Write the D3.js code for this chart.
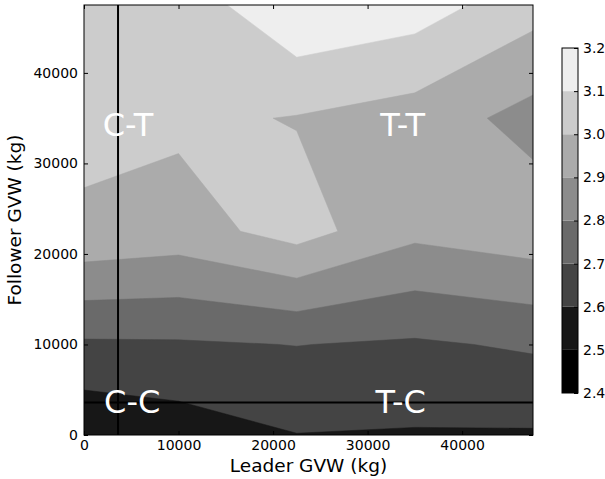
<!DOCTYPE html>
<html><head><meta charset="utf-8">
<script src="https://cdn.jsdelivr.net/npm/d3@7"></script>
<style>
html,body{margin:0;padding:0;background:#fff;}
svg{display:block;font-family:"DejaVu Sans",sans-serif;}
</style></head>
<body><svg id="chart" width="605" height="479"></svg>
<script>
// ---- data ----
const gridX = [0, 10000, 22500, 35000, 47500];          // Leader GVW grid (kg)
const gridY = [0, 10000, 22500, 35000, 47500];          // Follower GVW grid (kg)
// values, one row per gridY (bottom to top)
const row0 = [2.515, 2.547, 2.598, 2.592, 2.591];
const row1 = [2.686, 2.689, 2.702, 2.687, 2.713];
const row2 = [2.980, 2.956, 3.040, 2.925, 2.962];
const row3 = [3.032, 3.020, 2.995, 2.957, 2.864];
const row4 = [3.050, 3.037, 3.190, 3.149, 3.040];
const levels = [2.4, 2.5, 2.6, 2.7, 2.8, 2.9, 3.0, 3.1, 3.2];
const bandColors = ["#000000", "#171717", "#444444", "#6a6a6a", "#8c8c8c", "#ababab", "#cccccc", "#eeeeee"];
const xTicks = [0, 10000, 20000, 30000, 40000];
const yTicks = [0, 10000, 20000, 30000, 40000];
const splitX = 3600;   // vertical divider (kg)
const splitY = 3600;   // horizontal divider (kg)
const regionNames = ["C-T", "T-T", "C-C", "T-C"];
const regionX = [4650, 33700, 5100, 33500];
const regionY = [33000, 33000, 2400, 2400];

// ---- layout ----
const svg = d3.select("#chart");
const L = 84, R = 533, T = 5, B = 435;
const x = d3.scaleLinear().domain([0, 47500]).range([L, R]);
const y = d3.scaleLinear().domain([0, 47500]).range([B, T]);

const rows = [row0, row1, row2, row3, row4];
const nx = gridX.length, ny = gridY.length;
// negate so that d3's saddle rule connects the high corners (as matplotlib does here)
const flat = [];
rows.forEach(r => r.forEach(v => flat.push(-v)));

function interp(arr, u) {
  let t = Math.max(0, Math.min(arr.length - 1, u - 0.5));
  let i = Math.min(arr.length - 2, Math.floor(t));
  return arr[i] + (t - i) * (arr[i + 1] - arr[i]);
}
const gen = d3.contours().size([nx, ny]).smooth(true);
const path = d3.geoPath();

const plot = svg.append("g");
plot.append("clipPath").attr("id", "clip").append("rect")
  .attr("x", L).attr("y", T).attr("width", R - L).attr("height", B - T);
const cg = plot.append("g").attr("clip-path", "url(#clip)");

// draw region Z <= level for each upper level, from top down
for (let k = levels.length - 1; k >= 1; k--) {
  const lev = levels[k];
  const c = gen.contour(flat, -lev);
  const mapped = {
    type: "MultiPolygon",
    coordinates: c.coordinates.map(poly => poly.map(ring => ring.map(p => [x(interp(gridX, p[0])), y(interp(gridY, p[1]))])))
  };
  cg.append("path").attr("d", path(mapped)).attr("fill", bandColors[k - 1])
    .attr("stroke", bandColors[k - 1]).attr("stroke-width", 0.5);
}

// divider lines
cg.append("line").attr("x1", x(splitX)).attr("x2", x(splitX)).attr("y1", T).attr("y2", B)
  .attr("stroke", "#000").attr("stroke-width", 2);
cg.append("line").attr("x1", L).attr("x2", R).attr("y1", y(splitY)).attr("y2", y(splitY))
  .attr("stroke", "#000").attr("stroke-width", 2);

// region labels
regionNames.forEach((n, i) => {
  cg.append("text").attr("x", x(regionX[i])).attr("y", y(regionY[i]))
    .attr("text-anchor", "middle").attr("fill", "#fff").attr("font-size", 32).text(n);
});

// axes
const fmt = d3.format("d");
const ax = svg.append("g").attr("transform", `translate(0,${B})`)
  .call(d3.axisBottom(x).tickValues(xTicks).tickFormat(fmt).tickSizeInner(-4).tickSizeOuter(0).tickPadding(5));
const ay = svg.append("g").attr("transform", `translate(${L},0)`)
  .call(d3.axisLeft(y).tickValues(yTicks).tickFormat(fmt).tickSizeInner(-4).tickSizeOuter(0).tickPadding(6));
const axT = svg.append("g").attr("transform", `translate(0,${T})`)
  .call(d3.axisTop(x).tickValues(xTicks).tickFormat("").tickSizeInner(-4).tickSizeOuter(0));
const ayR = svg.append("g").attr("transform", `translate(${R},0)`)
  .call(d3.axisRight(y).tickValues(yTicks).tickFormat("").tickSizeInner(-4).tickSizeOuter(0));
[ax, ay, axT, ayR].forEach(g => {
  g.select(".domain").remove();
  g.selectAll("text").attr("font-size", 14).attr("fill", "#000").attr("font-family", "DejaVu Sans");
  g.selectAll("line").attr("stroke", "#000");
});
svg.append("rect").attr("x", L).attr("y", T).attr("width", R - L).attr("height", B - T)
  .attr("fill", "none").attr("stroke", "#000").attr("stroke-width", 1);

svg.append("text").attr("x", (L + R) / 2).attr("y", 472).attr("text-anchor", "middle")
  .attr("font-size", 18.5).text("Leader GVW (kg)");
svg.append("text").attr("transform", `translate(21,${(T + B) / 2}) rotate(-90)`)
  .attr("text-anchor", "middle").attr("font-size", 18.5).text("Follower GVW (kg)");

// colorbar
const cbL = 562, cbW = 16;
const cy = d3.scaleLinear().domain([levels[0], levels[levels.length - 1]]).range([393, 48]);
const cb = svg.append("g");
for (let k = 0; k < levels.length - 1; k++) {
  cb.append("rect").attr("x", cbL).attr("y", cy(levels[k + 1])).attr("width", cbW)
    .attr("height", cy(levels[k]) - cy(levels[k + 1])).attr("fill", bandColors[k]);
}
const cax = cb.append("g").attr("transform", `translate(${cbL + cbW},0)`)
  .call(d3.axisRight(cy).tickValues(levels).tickFormat(d3.format(".1f")).tickSizeInner(-4).tickSizeOuter(0).tickPadding(5));
cax.select(".domain").remove();
cax.selectAll("text").attr("font-size", 14).attr("fill", "#000").attr("font-family", "DejaVu Sans");
cax.selectAll("line").attr("stroke", "#000");
cb.append("rect").attr("x", cbL).attr("y", cy(levels[levels.length - 1])).attr("width", cbW)
  .attr("height", cy(levels[0]) - cy(levels[levels.length - 1])).attr("fill", "none").attr("stroke", "#000").attr("stroke-width", 1);
</script>
</body></html>
